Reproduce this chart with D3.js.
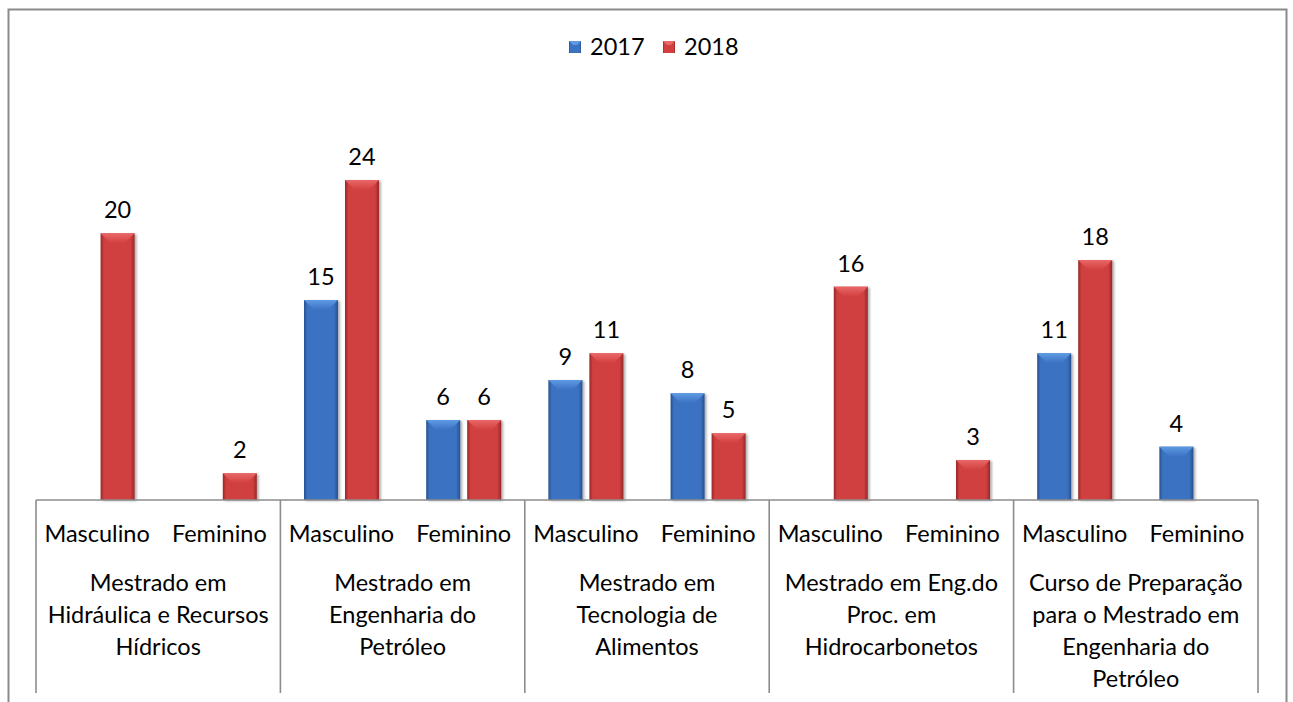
<!DOCTYPE html>
<html>
<head>
<meta charset="utf-8">
<script src="https://cdn.jsdelivr.net/npm/d3@7"></script>
<style>
  html, body { margin: 0; padding: 0; background: #fff; }
  text { font-family: Lato, "Open Sans", sans-serif; fill: #000; }
</style>
</head>
<body>
<div id="chart"></div>
<script>
// ---- data ------------------------------------------------------------------
const programs = [
    ["Mestrado em", "Hidráulica e Recursos", "Hídricos"],
    ["Mestrado em", "Engenharia do", "Petróleo"],
    ["Mestrado em", "Tecnologia de", "Alimentos"],
    ["Mestrado em Eng.do", "Proc. em", "Hidrocarbonetos"],
    ["Curso de Preparação", "para o Mestrado em", "Engenharia do", "Petróleo"]
];
const genders = ["Masculino", "Feminino"];
const years = ["2017", "2018"];
// one value per (program, gender), in order; null = no bar
const values2017 = [null, null, 15, 6, 9, 8, null, null, 11, 4];
const values2018 = [20, 2, 24, 6, 11, 5, 16, 3, 18, null];

const palette = {
    "2017": { base: "#3b72c2", light: "#5e9ae4", dark: "#27508f" },
    "2018": { base: "#d13f3f", light: "#ea6868", dark: "#962828" }
};

// ---- layout ----------------------------------------------------------------
const W = 1293, H = 702;
const plot = { left: 36, right: 1258, top: 100, bottom: 500 };
const FS = "23.5px";

const svg = d3.select("#chart").append("svg")
    .attr("width", W).attr("height", H)
    .attr("viewBox", `0 0 ${W} ${H}`);

// chart border (bottom edge runs off the picture)
svg.append("rect")
    .attr("x", 8.5).attr("y", 9.5)
    .attr("width", 1278).attr("height", 720)
    .attr("fill", "none").attr("stroke", "#8a8a8a").attr("stroke-width", 2);

const cats = [];
programs.forEach((p, i) => genders.forEach((g, j) => cats.push({ key: i + "|" + g, program: i, gender: g, idx: i * 2 + j })));

const x0 = d3.scaleBand().domain(cats.map(d => d.key)).range([plot.left, plot.right]);
const xp = d3.scaleBand().domain(programs.map((_, i) => i)).range([plot.left, plot.right]);
const x1 = d3.scaleBand().domain(years).range([0, x0.bandwidth()])
    .paddingInner(0.17).paddingOuter(0.575);
const y = d3.scaleLinear().domain([0, 30]).range([plot.bottom, plot.top]);

// gradients for the bevelled bars
const defs = svg.append("defs");
years.forEach(yr => {
    const c = palette[yr];
    const g = defs.append("linearGradient").attr("id", "side" + yr)
        .attr("x1", "0").attr("x2", "1").attr("y1", "0").attr("y2", "0");
    g.append("stop").attr("offset", "0").attr("stop-color", c.dark);
    g.append("stop").attr("offset", "0.1").attr("stop-color", c.base);
    g.append("stop").attr("offset", "0.88").attr("stop-color", c.base);
    g.append("stop").attr("offset", "1").attr("stop-color", c.dark);
    const t = defs.append("linearGradient").attr("id", "top" + yr)
        .attr("x1", "0").attr("x2", "0").attr("y1", "0").attr("y2", "1");
    t.append("stop").attr("offset", "0").attr("stop-color", c.light);
    t.append("stop").attr("offset", "1").attr("stop-color", c.base);
});
const shadow = defs.append("filter").attr("id", "shadow")
    .attr("x", "-20%").attr("y", "-10%").attr("width", "150%").attr("height", "130%");
shadow.append("feDropShadow").attr("dx", 2).attr("dy", 1).attr("stdDeviation", 1.2)
    .attr("flood-color", "#000").attr("flood-opacity", 0.3);

// ---- bars ------------------------------------------------------------------
const bars = [];
cats.forEach(c => {
    [["2017", values2017[c.idx]], ["2018", values2018[c.idx]]].forEach(([yr, v]) => {
        if (v != null) bars.push({ cat: c, year: yr, value: v });
    });
});

const barG = svg.append("g").selectAll("g").data(bars).join("g")
    .attr("transform", d => `translate(${x0(d.cat.key) + x1(d.year)},0)`);
const bw = x1.bandwidth();

barG.append("rect")
    .attr("x", 0).attr("y", d => y(d.value))
    .attr("width", bw).attr("height", d => y(0) - y(d.value))
    .attr("fill", d => `url(#side${d.year})`)
    .attr("filter", "url(#shadow)");

// top bevel
barG.append("path")
    .attr("d", d => {
        const t = y(d.value), b = 10;
        return `M0,${t}L${bw},${t}L${bw - b},${t + b}L${b},${t + b}Z`;
    })
    .attr("fill", d => `url(#top${d.year})`);

// value labels
barG.append("text")
    .attr("x", bw / 2).attr("y", d => y(d.value) - 15)
    .attr("text-anchor", "middle")
    .style("font-size", FS)
    .text(d => d.value);

// ---- axis lines ------------------------------------------------------------
const axis = svg.append("g").attr("stroke", "#8c8c8c").attr("stroke-width", 1.6);
axis.append("line")
    .attr("x1", plot.left).attr("x2", plot.right)
    .attr("y1", plot.bottom).attr("y2", plot.bottom);
axis.selectAll("line.sep").data(d3.range(programs.length + 1)).join("line")
    .attr("class", "sep")
    .attr("x1", i => i < programs.length ? xp(i) : plot.right)
    .attr("x2", i => i < programs.length ? xp(i) : plot.right)
    .attr("y1", plot.bottom).attr("y2", 693);

// category labels
svg.append("g").selectAll("text").data(cats).join("text")
    .attr("x", d => x0(d.key) + x0.bandwidth() / 2)
    .attr("y", 542)
    .attr("text-anchor", "middle")
    .style("font-size", FS)
    .text(d => d.gender);

// program labels
svg.append("g").selectAll("text").data(programs).join("text")
    .attr("x", (_, i) => xp(i) + xp.bandwidth() / 2)
    .attr("y", 591)
    .attr("text-anchor", "middle")
    .style("font-size", FS)
    .selectAll("tspan").data(d => d).join("tspan")
    .attr("x", function () { return d3.select(this.parentNode).attr("x"); })
    .attr("dy", (_, i) => i === 0 ? 0 : 32)
    .text(d => d);

// ---- legend ----------------------------------------------------------------
const legend = svg.append("g");
const legendX = [569, 663];
years.forEach((yr, i) => {
    const g = legend.append("g").attr("transform", `translate(${legendX[i]},41)`);
    g.append("rect").attr("width", 12).attr("height", 12)
        .attr("fill", `url(#side${yr})`);
    g.append("path").attr("d", "M0,0L12,0L8,4L4,4Z").attr("fill", palette[yr].light);
    g.append("text").attr("x", 21).attr("y", 14)
        .style("font-size", FS).text(yr);
});
</script>
</body>
</html>
